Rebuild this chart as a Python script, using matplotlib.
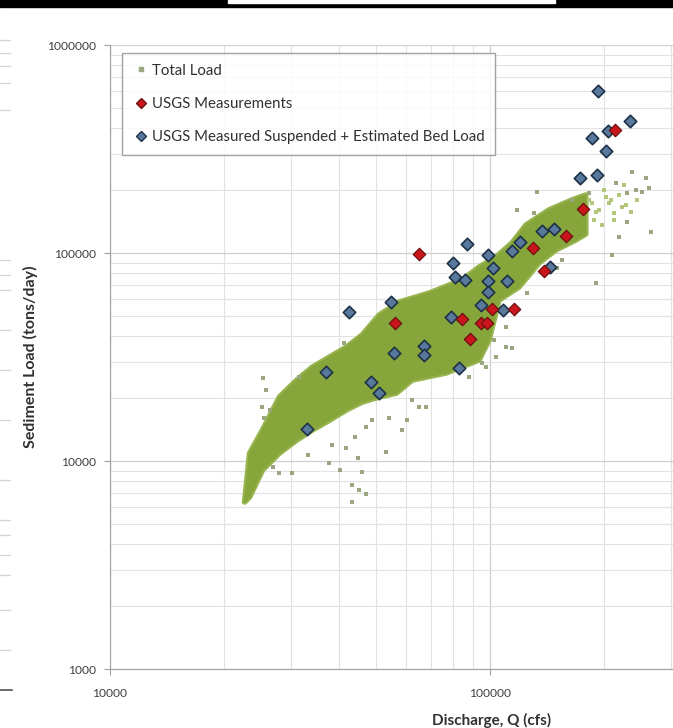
import numpy as np
import matplotlib
matplotlib.use("Agg")
import matplotlib.pyplot as plt
from matplotlib.lines import Line2D
from matplotlib.patches import Rectangle

plt.rcParams['font.family'] = ['Lato', 'DejaVu Sans']

# USGS measurements (red)
usgs_q = [65000, 176000, 158000, 130000, 139000, 101000, 115600, 84600,
          94500, 98000, 88600, 213000, 56300]
usgs_load = [98500, 163000, 121000, 106000, 82000, 54000, 54000, 48300,
             46000, 46000, 38700, 390000, 46000]

# USGS measured suspended + estimated bed load (blue)
bed_q = [192000, 233000, 204000, 185000, 202000, 172000, 191000, 137000,
         147000, 120000, 114000, 87000, 99000, 80000, 102000, 81000, 86000,
         99000, 111000, 144000, 99000, 94500, 108000, 79000, 67000, 67000,
         55000, 42500, 56000, 83000, 37000, 48600, 51000, 33000]
bed_load = [600000, 433000, 386000, 358000, 310000, 230000, 238000, 128000,
            131000, 113000, 102000, 111000, 98000, 90000, 85000, 77000, 74000,
            73000, 73000, 86000, 65000, 56000, 53000, 49000, 35600, 32400,
            58000, 52000, 33000, 28000, 26700, 24000, 21300, 14300]

# Total load: outline of the dense cloud (upper edge then lower edge)
cloud_q = [22600, 23300, 25200, 27900, 31000, 34100, 37800, 41900, 46100,
           51100, 57700, 69200, 84400, 93600, 103700, 114200, 124300, 142800,
           164100, 178600,
           178600, 168200, 149000, 134500, 119200, 105600, 99400, 93600, 76700,
           62400, 56700, 51100, 46100, 41900, 37800, 34100, 31000, 27900,
           25200, 23300]
cloud_load = [6350, 10900, 14100, 20300, 24500, 28300, 31600, 35300, 40400,
              50400, 58100, 64200, 74200, 85600, 95700, 111700, 136300, 161000,
              179800, 190100,
              123400, 115500, 103400, 89500, 68600, 59400, 38200, 30600, 26500,
              24500, 21200, 20300, 19200, 17600, 15700, 14100, 12600, 10900,
              9050, 6710]

# Total load: scattered points outside the dense cloud
scat_q = [25200, 25800, 25500, 26300, 25100, 33100, 38500, 41900, 44000,
          47300, 49000, 54300, 58700, 60600, 53300, 44800, 40200, 46100, 43400,
          45300, 47300, 43400, 37800, 30200, 27900, 26800, 62400, 65100, 67900,
          41400, 31500, 95300, 103700, 110200, 114200, 88100, 97600, 110200,
          102400, 235900, 256700, 261400, 250600, 241700, 228800, 214200,
          132900, 117700, 130500, 164100, 181900, 264600, 218100, 209000,
          189800, 154500, 149900, 125100, 228800]
scat_load = [25100, 21950, 16100, 17600, 18200, 10700, 11900, 11550, 13050,
             14600, 15700, 16100, 14100, 15700, 11050, 10300, 9050, 8850, 7670,
             7260, 6940, 6350, 9780, 8750, 8750, 9360, 19650, 18200, 18200,
             36900, 25300, 29600, 31600, 35300, 34900, 25300, 28300, 44100,
             38200, 245100, 229400, 205400, 196500, 200900, 194300, 217000,
             196500, 161000, 155800, 179800, 194300, 126200, 119400, 97800,
             71800, 92500, 84700, 64200, 140900]

# Total load: sparse lighter points at the high-flow end
light_q = [181900, 189800, 199200, 207800, 218100, 227500, 234500, 243100,
           211600, 196800, 187500, 224700, 205300, 193200, 211600, 222100,
           201600, 185200]
light_load = [179800, 157500, 200900, 179800, 190100, 170100, 157500, 179800,
              144100, 136300, 144100, 212300, 174000, 161000, 155800, 166400,
              185800, 174000]

fig = plt.figure(figsize=(6.73, 7.28), dpi=100)
ax = fig.add_axes([110 / 673, 59 / 728, 563 / 673, 624 / 728])

green = '#86a63c'
# slightly lighter fringe, then the dense core
ax.fill(cloud_q, cloud_load, color='#97b44e', lw=4, ec='#97b44e',
        joinstyle='round', zorder=3)
ax.fill(cloud_q, cloud_load, color=green, lw=1, ec=green, joinstyle='round',
        zorder=3)
ax.scatter(scat_q, scat_load, s=6, marker='s', color='#9aa67f', lw=0, zorder=3)
ax.scatter(light_q, light_load, s=8, marker='s', color='#b3c77c', lw=0, zorder=3)
ax.scatter(bed_q, bed_load, s=40, marker='D', color='#58799c',
           edgecolors='#1e3148', linewidths=1.2, zorder=4)
ax.scatter(usgs_q, usgs_load, s=40, marker='D', color='#c8161b',
           edgecolors='#6e1010', linewidths=0.9, zorder=5)

ax.set_xscale('log')
ax.set_yscale('log')
ax.set_xlim(1e4, 3.03e5)
ax.set_ylim(1e3, 1e6)

ax.set_xticks([1e4, 1e5], ['10000', '100000'])
ax.set_yticks([1e3, 1e4, 1e5, 1e6], ['1000', '10000', '100000', '1000000'])
ax.tick_params(which='major', length=4, color='#a0a0a0', labelsize=8.7,
               labelcolor='#404040')
ax.tick_params(axis='y', pad=6)
ax.tick_params(axis='x', pad=10)
ax.tick_params(which='minor', length=0)
ax.grid(True, which='major', color='#cfcfcf', lw=0.9)
ax.grid(True, which='minor', color='#e2e2e2', lw=0.8)
ax.set_axisbelow(True)
for side in ['top', 'right']:
    ax.spines[side].set_visible(False)
for side in ['left', 'bottom']:
    ax.spines[side].set_color('#a0a0a0')

ax.set_ylabel('Sediment Load (tons/day)', fontsize=11.5, fontweight='bold',
              color='#303030')
ax.yaxis.set_label_coords(-0.128, 0.5)
ax.set_xlabel('Discharge, Q (cfs)', fontsize=11, fontweight='bold',
              color='#303030')
ax.xaxis.set_label_coords(0.678, -0.0705)

handles = [
    Line2D([], [], marker='s', ms=2.5, color='#9aa67f', ls='none'),
    Line2D([], [], marker='D', ms=5.5, color='#c8161b', mec='#6e1010', ls='none'),
    Line2D([], [], marker='D', ms=5.5, color='#58799c', mec='#1e3148', ls='none'),
]
labels = ['Total Load', 'USGS Measurements',
          'USGS Measured Suspended + Estimated Bed Load']
leg = ax.legend(handles, labels, loc='upper left',
                bbox_to_anchor=(0.021, 0.987), fontsize=10.8, frameon=True,
                fancybox=False, edgecolor='#8c8c8c', labelspacing=1.28,
                handletextpad=0.1, handlelength=1.2, borderpad=0.7,
                borderaxespad=0)
leg.get_frame().set_linewidth(1.0)
for t in leg.get_texts():
    t.set_color('#303030')

# cropped screenshot bits: black bar on top, remnant of a neighbouring chart
fig.patches.append(Rectangle((0, 1 - 7 / 728), 1, 7 / 728,
                             transform=fig.transFigure, color='black'))
fig.patches.append(Rectangle((228 / 673, 1 - 3 / 728), 327 / 673, 3 / 728,
                             transform=fig.transFigure, color='white'))
for yp in [40, 53, 66, 83, 110, 260, 275, 290, 330, 370, 420, 480, 520,
           535, 555, 575, 610, 650]:
    fig.add_artist(Line2D([0, 10 / 673], [1 - yp / 728] * 2, color='#d4d4d4',
                          lw=0.9))
fig.add_artist(Line2D([0, 12 / 673], [1 - 690 / 728] * 2, color='#505050',
                      lw=1.2))

fig.savefig('out.png', dpi=100)
